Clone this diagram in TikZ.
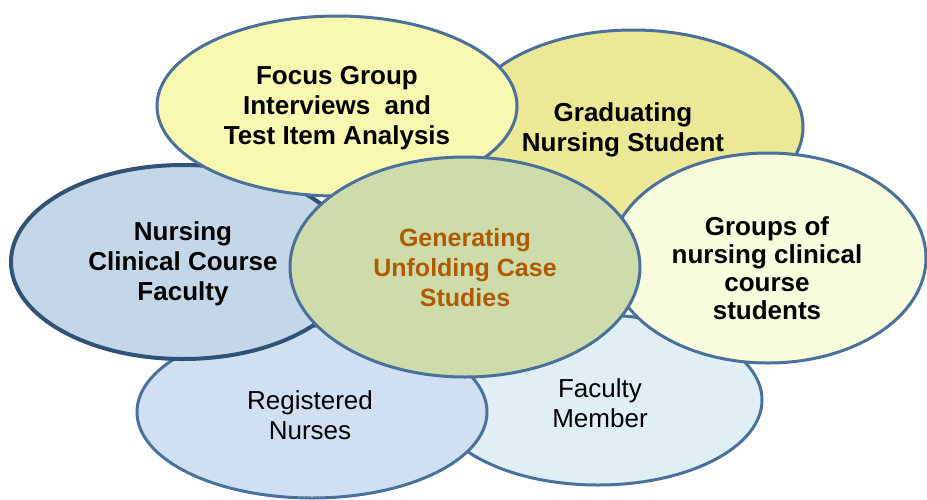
\documentclass[tikz,border=0pt]{standalone}
\usepackage{fontspec}
\setmainfont{Liberation Sans}
\definecolor{ringblue}{HTML}{4A709C}
\definecolor{ringdark}{HTML}{2F5275}
\definecolor{focusfill}{HTML}{F9F8B0}
\definecolor{gradfill}{HTML}{EBE995}
\definecolor{groupfill}{HTML}{F8FBDC}
\definecolor{clinfill}{HTML}{C4D7E9}
\definecolor{regfill}{HTML}{D0E0F2}
\definecolor{facfill}{HTML}{E0EFF6}
\definecolor{corefill}{HTML}{CEDCAB}
\definecolor{coretext}{HTML}{B05A00}
\begin{document}
\begin{tikzpicture}[x=1pt, y=-1pt,
    bubble/.style={line width=3pt, draw=ringblue},
    boldlabel/.style={align=center, font=\fontsize{26}{30}\selectfont\bfseries},
    plainlabel/.style={align=center, font=\fontsize{26}{30}\selectfont}]
            \useasboundingbox (0,0) rectangle (927,499);

            % Draw the ellipses at the back first
            \draw[bubble, fill=gradfill] (633,127) ellipse [x radius=170, y radius=97];
            \node[boldlabel] (grad) at (623,130) {Graduating\\Nursing Student};

            \draw[bubble, fill=facfill] (598,400) ellipse [x radius=164, y radius=85];
            \node[plainlabel] (faculty) at (600,403) {Faculty\\Member};

            \draw[bubble, fill=groupfill] (768,258) ellipse [x radius=158, y radius=105];
            \node[boldlabel, font=\fontsize{26}{28}\selectfont\bfseries] (groups) at (767,268) {Groups of\\nursing clinical\\course\\students};

            \draw[bubble, fill=regfill] (312,412) ellipse [x radius=175, y radius=86];
            \node[plainlabel] (nurses) at (310,415) {Registered\\Nurses};

            % Draw the darker left ellipse
            \draw[line width=4pt, draw=ringdark, fill=clinfill] (183,262) ellipse [x radius=172, y radius=97];
            \node[boldlabel] (clinical) at (183,264) {Nursing\\Clinical Course\\Faculty};

            \draw[bubble, fill=focusfill] (337,106) ellipse [x radius=180, y radius=90];
            \node[boldlabel] (focus) at (337,108) {Focus Group\\Interviews\ \ and\\Test Item Analysis};

            % Draw the centre ellipse on top
            \draw[bubble, fill=corefill] (465,267) ellipse [x radius=175, y radius=110];
            \node[boldlabel, text=coretext, font=\fontsize{25}{30}\selectfont\bfseries] (core) at (465,268) {Generating\\Unfolding Case\\Studies};

\end{tikzpicture}
\end{document}
